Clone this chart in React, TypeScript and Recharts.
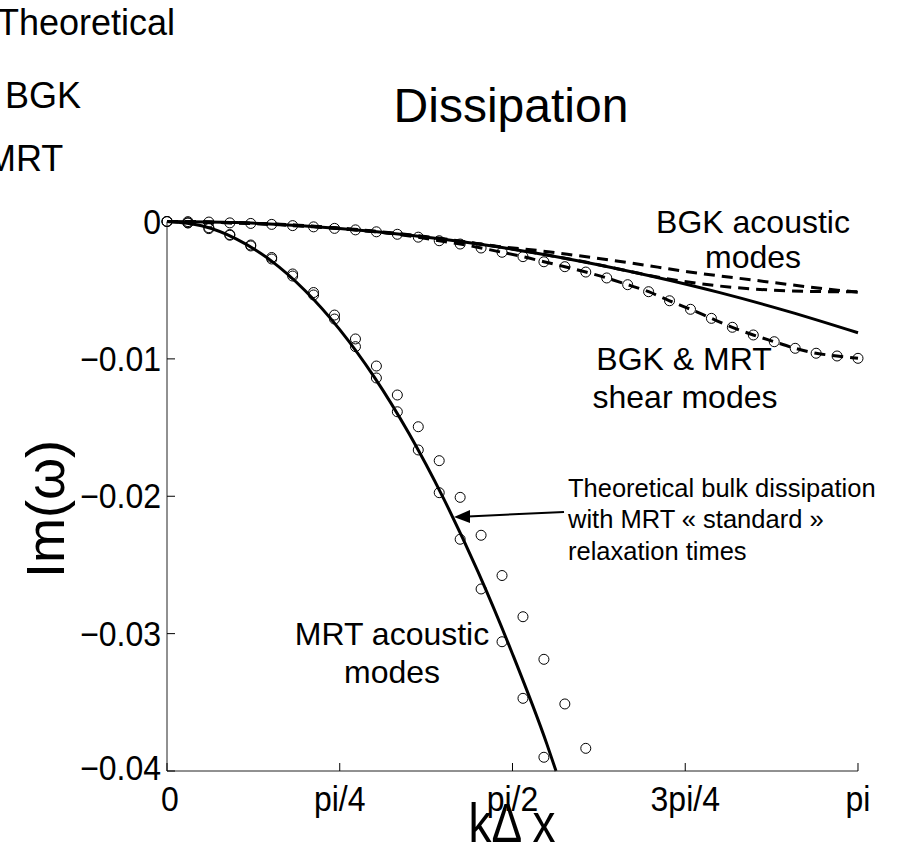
import React from 'react';
import { ComposedChart, Line, XAxis, YAxis } from 'recharts';

const FONT = '"Liberation Sans", Arial, Helvetica, sans-serif';
const PI = Math.PI;

// Wavenumber samples of the simulated modes (k·Δx)
const kGrid = [
  0, 0.0952, 0.1904, 0.2856, 0.3808, 0.476, 0.5712, 0.6664, 0.7616, 0.8568,
  0.952, 1.0472, 1.1424, 1.2376, 1.3328, 1.428, 1.5232, 1.6184, 1.7136, 1.8088,
  1.904, 1.9992, 2.0944, 2.1896, 2.2848, 2.38, 2.4752, 2.5704, 2.6656, 2.7608,
  2.856, 2.9512, 3.0464, 3.1416,
];

// BGK & MRT shear modes
const shearModes = [
  0, -0.00001, -0.00004, -0.0001, -0.00014, -0.00021, -0.0003, -0.00039, -0.0005, -0.00061,
  -0.00075, -0.00093, -0.00114, -0.0014, -0.00164, -0.00193, -0.00224, -0.00256, -0.00293, -0.00329,
  -0.00368, -0.00411, -0.0046, -0.00511, -0.00577, -0.00639, -0.00705, -0.0077, -0.00826, -0.00875,
  -0.00923, -0.00959, -0.00979, -0.00996,
];

// MRT acoustic modes, two branches
const mrtAcousticA = [
  0, -0.00009, -0.00045, -0.00095, -0.00171, -0.00262, -0.00382, -0.00517, -0.00681, -0.00855,
  -0.01052, -0.01263, -0.01494, -0.01741, -0.02008, -0.02284, -0.02577, -0.02877, -0.03187, -0.03512,
  -0.03835,
];
const mrtAcousticB = [
  0, -0.00011, -0.00052, -0.001, -0.00178, -0.00273, -0.00397, -0.00535, -0.0071, -0.00911,
  -0.01139, -0.01385, -0.01663, -0.01974, -0.02313, -0.02675, -0.03059, -0.03471, -0.039,
];

// Theoretical shear dissipation
const kTheory = [0, 0.3142, 0.6283, 0.9425, 1.2566, 1.5708, 1.885, 2.1991, 2.5133, 2.8274, 3.1416];
const theoryShear = [0, -0.00008, -0.00032, -0.00073, -0.0013, -0.00202, -0.00291, -0.00397, -0.00518, -0.00656, -0.0081];

// Theoretical bulk dissipation with MRT standard relaxation times
const kBulk = [0, 0.1571, 0.3142, 0.4712, 0.6283, 0.7854, 0.9425, 1.0996, 1.2566, 1.4137, 1.5708, 1.7279, 1.7687];
const theoryBulk = [0, -0.00031, -0.00126, -0.00283, -0.00504, -0.00787, -0.01133, -0.01542, -0.02014, -0.02549, -0.03148, -0.03808, -0.04];

// BGK acoustic modes, two branches
const kBgkUpper = [0, 0.628, 0.942, 1.257, 1.514, 1.696, 1.847, 2.117, 2.366, 2.664, 2.969, 3.1416];
const bgkAcousticUpper = [0, -0.0003, -0.0007, -0.00125, -0.00183, -0.00213, -0.00244, -0.00304, -0.00365, -0.00426, -0.00486, -0.00515];
const kBgkLower = [0, 0.628, 1.257, 1.571, 1.885, 2.287, 2.513, 2.733, 2.969, 3.1416];
const bgkAcousticLower = [0, -0.00032, -0.0013, -0.002, -0.0029, -0.0042, -0.0047, -0.00498, -0.0051, -0.00512];

const xTicks = [0, PI / 4, PI / 2, (3 * PI) / 4, PI];
const xTickLabels = ['0', 'pi/4', 'pi/2', '3pi/4', 'pi'];
const yTicks = [-0.04, -0.03, -0.02, -0.01, 0];
const yTickLabels = ['\u22120.04', '\u22120.03', '\u22120.02', '\u22120.01', '0'];

const zip = (ks: number[], vs: number[]) => vs.map((v, i) => ({ k: ks[i], v }));

const shearData = zip(kGrid, shearModes);
const mrtAData = zip(kGrid, mrtAcousticA);
const mrtBData = zip(kGrid, mrtAcousticB);
const theoryShearData = zip(kTheory, theoryShear);
const theoryBulkData = zip(kBulk, theoryBulk);
const bgkUpperData = zip(kBgkUpper, bgkAcousticUpper);
const bgkLowerData = zip(kBgkLower, bgkAcousticLower);

const circleDot = { r: 5, stroke: '#000', strokeWidth: 1, fill: 'none', clipDot: false };

const XTick = (props: any) => {
  const { x, y, payload } = props;
  const i = xTicks.findIndex((t) => Math.abs(t - payload.value) < 1e-6);
  return (
    <g>
      <line x1={x} x2={x} y1={y} y2={y - 8} stroke="#000" strokeWidth={1} />
      <text
        transform={`translate(${x + (i === 0 ? 3 : 0)},${y + 40}) scale(1,1.12)`}
        textAnchor="middle"
        fontFamily={FONT}
        fontSize={32}
        fill="#000"
      >
        {xTickLabels[i]}
      </text>
    </g>
  );
};

const YTick = (props: any) => {
  const { x, y, payload } = props;
  const i = yTicks.findIndex((t) => Math.abs(t - payload.value) < 1e-9);
  return (
    <g>
      <line x1={x} x2={x + 8} y1={y} y2={y} stroke="#000" strokeWidth={1} />
      <text
        transform={`translate(${x - 6},${y + (i === 0 ? 9 : 12)}) scale(1,1.08)`}
        textAnchor="end"
        fontFamily={FONT}
        fontSize={32}
        fill="#000"
      >
        {yTickLabels[i]}
      </text>
    </g>
  );
};

export default function App() {
  return (
    <div style={{ position: 'absolute', left: 0, top: 0, width: 906, height: 844, background: '#fff' }}>
      <ComposedChart
        width={906}
        height={844}
        margin={{ top: 221.5, right: 48, bottom: 13, left: 67 }}
      >
        <XAxis
          type="number"
          dataKey="k"
          domain={[0, PI]}
          ticks={xTicks}
          interval={0}
          tick={<XTick />}
          tickLine={false}
          tickSize={0}
          tickMargin={0}
          axisLine={{ stroke: '#222', strokeWidth: 1 }}
          height={60}
        />
        <YAxis
          type="number"
          domain={[-0.04, 0]}
          ticks={yTicks}
          interval={0}
          tick={<YTick />}
          tickLine={false}
          tickSize={0}
          tickMargin={0}
          axisLine={{ stroke: '#222', strokeWidth: 1 }}
          width={100}
        />
        <Line data={theoryShearData} dataKey="v" type="monotone" stroke="#000" strokeWidth={3} dot={false} isAnimationActive={false} />
        <Line data={bgkUpperData} dataKey="v" type="monotone" stroke="#000" strokeWidth={3} strokeDasharray="11 7" dot={false} isAnimationActive={false} />
        <Line data={bgkLowerData} dataKey="v" type="monotone" stroke="#000" strokeWidth={3} strokeDasharray="11 7" dot={false} isAnimationActive={false} />
        <Line data={shearData} dataKey="v" type="monotone" stroke="#000" strokeWidth={3} strokeDasharray="11 7" dot={false} isAnimationActive={false} />
        <Line data={theoryBulkData} dataKey="v" type="monotone" stroke="#000" strokeWidth={3} dot={false} isAnimationActive={false} />
        <Line data={shearData} dataKey="v" stroke="none" dot={circleDot} isAnimationActive={false} />
        <Line data={mrtAData} dataKey="v" stroke="none" dot={circleDot} isAnimationActive={false} />
        <Line data={mrtBData} dataKey="v" stroke="none" dot={circleDot} isAnimationActive={false} />
      </ComposedChart>
      <svg
        width={906}
        height={844}
        style={{ position: 'absolute', left: 0, top: 0, pointerEvents: 'none' }}
        fontFamily={FONT}
        fill="#000"
      >
        <text x={-3} y={35} fontSize={36}>Theoretical</text>
        <text x={5} y={108} fontSize={36}>BGK</text>
        <text x={-14} y={171} fontSize={36}>MRT</text>
        <text x={511} y={122} fontSize={48} textAnchor="middle">Dissipation</text>
        <text x={753} y={233} fontSize={32} textAnchor="middle">BGK acoustic</text>
        <text x={753} y={268} fontSize={32} textAnchor="middle">modes</text>
        <text x={684} y={370} fontSize={32} textAnchor="middle">BGK &amp; MRT</text>
        <text x={685} y={408} fontSize={32} textAnchor="middle">shear modes</text>
        <text x={392} y={645} fontSize={32} textAnchor="middle">MRT acoustic</text>
        <text x={392} y={683} fontSize={32} textAnchor="middle">modes</text>
        <text x={568} y={497} fontSize={25.5}>Theoretical bulk dissipation</text>
        <text x={568} y={528} fontSize={25.5}>with MRT « standard »</text>
        <text x={568} y={560} fontSize={25.5}>relaxation times</text>
        <line x1={564} y1={512} x2={468} y2={516.4} stroke="#000" strokeWidth={2} />
        <polygon points="454,517 470,510 470,523" fill="#000" />
        <text transform="translate(512,842) scale(1,1.2)" fontSize={46} textAnchor="middle">k{'\u0394'} x</text>
        <text transform="translate(64,509) rotate(-90)" fontSize={54} textAnchor="middle">Im(ω)</text>
      </svg>
    </div>
  );
}
